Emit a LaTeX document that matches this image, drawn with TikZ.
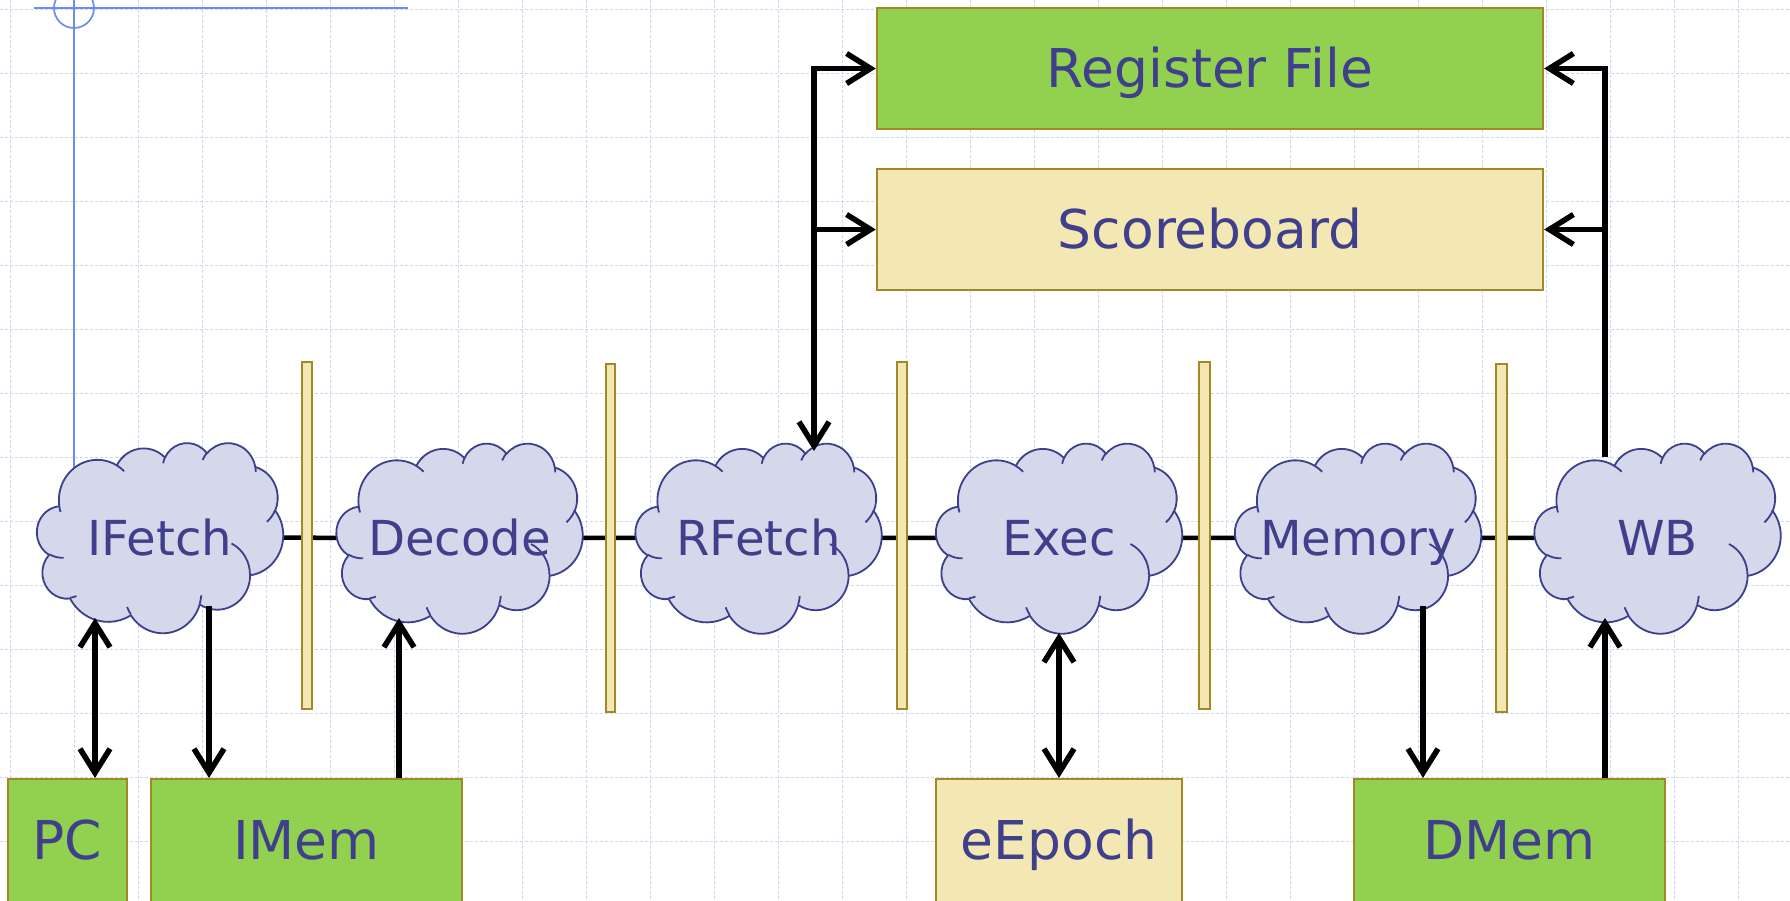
\documentclass[tikz,border=0pt]{standalone}
\usepackage{fontspec}
\setmainfont{DejaVu Sans}
\usetikzlibrary{arrows.meta}
\definecolor{txtblue}{RGB}{63,63,140}
\definecolor{cloudfill}{RGB}{213,215,235}
\definecolor{cloudedge}{RGB}{60,64,140}
\definecolor{boxgreen}{RGB}{146,208,80}
\definecolor{boxyellow}{RGB}{243,231,180}
\definecolor{boxedge}{RGB}{163,137,38}
\definecolor{gridblue}{RGB}{203,214,246}
\definecolor{guideblue}{RGB}{110,140,240}
\pgfdeclarelayer{bg}
\pgfsetlayers{bg,main}

\newcommand\oarc[4]{arc[x radius=#1,y radius=#2,start angle={oopar(#1,#2,#3)},delta angle={oodel(#1,#2,#3,#4)}]}

\newcommand\pcloud[4]{%
  \begin{scope}[shift={(#2-123,#3-95)},x=0.0569444cm,y=-0.0439815cm]
    \path[cloudbody] (3.900,14.370)
      \oarc{6.753}{9.190}{-190.48748}{123.78053}
      \oarc{5.333}{7.267}{-144.10238}{89.94523}
      \oarc{4.365}{5.945}{-145.80792}{99.72302}
      \oarc{4.857}{6.595}{-130.98607}{117.24173}
      \oarc{5.333}{7.273}{-78.70888}{109.02692}
      \oarc{6.775}{9.220}{-46.26725}{130.26900}
      \oarc{5.785}{7.867}{0.62502}{114.03333}
      \oarc{6.752}{9.215}{22.45160}{115.17255}
      \oarc{7.720}{10.543}{66.24263}{75.71102}
      \oarc{4.360}{5.918}{-274.94208}{146.73557}
      \oarc{4.345}{5.945}{-246.82850}{152.51885}
      -- cycle;
    \path[cloudinner]
      (4.693,26.177) \oarc{4.345}{5.945}{86.742}{26.4295}
      (6.928,34.899) \oarc{4.360}{5.918}{73.61047}{11.44747}
      (16.478,39.090) \oarc{6.752}{9.215}{137.62415}{14.0811}
      (28.827,34.751) \oarc{6.752}{9.215}{6.45327}{15.99835}
      (34.129,22.954) \oarc{5.785}{7.867}{-70.29235}{70.91737}
      (41.798,15.354) \oarc{5.333}{7.273}{30.31803}{27.7515}
      (38.324,5.426) \oarc{4.857}{6.595}{-13.74433}{14.8589}
      (29.078,3.952) \oarc{4.857}{6.595}{-149.18145}{18.19537}
      (22.141,4.720) \oarc{4.365}{5.945}{-163.49427}{17.68635}
      (14.000,5.192) \oarc{6.753}{9.190}{-66.70695}{12.31935}
      (4.127,15.789) \oarc{6.753}{9.190}{157.65435}{11.85817};
  \end{scope}
  \node[cloudtext] (#1) at (#2,#3) {#4};
}

\begin{document}
\begin{tikzpicture}[x=0.01cm,y=-0.01cm,
  declare function={
    oopar(\qw,\qh,\qa)=atan2(\qw*sin(\qa),\qh*cos(\qa));
    oofix(\qd,\qs)=\qd-360*round((\qd-\qs)/360);
    oodel(\qw,\qh,\qa,\qs)=oofix(oopar(\qw,\qh,\qa+\qs)-oopar(\qw,\qh,\qa),\qs);
  },
  >={Straight Barb[length=0.24cm,width=0.30cm]},
  gridline/.style={draw=gridblue,line width=0.01cm,dash pattern=on 0.03cm off 0.02cm},
  guide/.style={draw=guideblue,line width=0.017cm},
  cloudbody/.style={fill=cloudfill,draw=cloudedge,line width=0.018cm,line join=round},
  cloudinner/.style={draw=cloudedge,line width=0.018cm},
  cloudtext/.style={font=\fontsize{13.7}{16}\selectfont,text=txtblue,inner sep=0pt,text height=9.99pt,text depth=0pt},
  boxtext/.style={font=\fontsize{15.2}{18}\selectfont,text=txtblue,inner sep=0pt,text height=11.08pt,text depth=0pt},
  gbox/.style={boxtext,draw=boxedge,fill=boxgreen,line width=0.02cm},
  ybox/.style={boxtext,draw=boxedge,fill=boxyellow,line width=0.02cm},
  pipebar/.style={draw=boxedge,fill=boxyellow,line width=0.016cm,inner sep=0pt},
  conn/.style={draw=black,line width=0.055cm},
  flow/.style={draw=black,line width=0.045cm}]

\useasboundingbox (0,0) rectangle (1790,901);

\begin{pgfonlayer}{bg}
  \fill[white] (0,0) rectangle (1790,901);
  \foreach \i in {0,...,27} \draw[gridline] (10+64*\i,0) -- (10+64*\i,901);
  \foreach \j in {0,...,13} \draw[gridline] (0,10+64*\j) -- (1790,10+64*\j);
\end{pgfonlayer}

% guide lines
\draw[guide] (34,8) -- (408,8);
\draw[guide] (74,-5) -- (74,480);
\draw[guide] (74,8) circle[radius=0.2cm];

% top boxes
\node[gbox,minimum width=6.66cm,minimum height=1.21cm] (regfile) at (1210,68.5) {Register File};
\node[ybox,minimum width=6.66cm,minimum height=1.21cm] (scoreboard) at (1210,229.5) {Scoreboard};

% pipeline registers
\node[pipebar,minimum width=0.10cm,minimum height=3.47cm] (bar1) at (307,535.5) {};
\node[pipebar,minimum width=0.09cm,minimum height=3.48cm] (bar2) at (610.5,538) {};
\node[pipebar,minimum width=0.10cm,minimum height=3.47cm] (bar3) at (902,535.5) {};
\node[pipebar,minimum width=0.11cm,minimum height=3.47cm] (bar4) at (1204.5,535.5) {};
\node[pipebar,minimum width=0.11cm,minimum height=3.48cm] (bar5) at (1501.5,538) {};

% clouds
\pcloud{ifetch}{160}{537.5}{IFetch}
\pcloud{decode}{459.5}{538}{Decode}
\pcloud{rfetch}{758.5}{538}{RFetch}
\pcloud{exec}{1059}{538}{Exec}
\pcloud{memory}{1358}{538}{Memory}
\pcloud{wb}{1657.5}{538}{WB}

% bottom boxes
\node[gbox,minimum width=1.19cm,minimum height=1.23cm] (pc) at (67.5,840.5) {PC};
\node[gbox,minimum width=3.11cm,minimum height=1.23cm] (imem) at (306.5,840.5) {IMem};
\node[ybox,minimum width=2.46cm,minimum height=1.23cm] (eepoch) at (1059,840.5) {eEpoch};
\node[gbox,minimum width=3.11cm,minimum height=1.23cm] (dmem) at (1509.5,840.5) {DMem};

% connector end points on cloud borders
\coordinate (pcA) at (95,618);
\coordinate (imA) at (209,606);
\coordinate (deA) at (399,618);
\coordinate (exA) at (1059,633);
\coordinate (meA) at (1423,606);
\coordinate (wbA) at (1605,618);
\coordinate (wbT) at (1605,457);
\coordinate (rfT) at (814,451);
\coordinate (rfK) at (814,68.5);
\coordinate (wbK) at (1605,68.5);

\begin{pgfonlayer}{bg}
  \draw[flow] (ifetch) -- (decode) -- (rfetch) -- (exec) -- (memory) -- (wb);
\end{pgfonlayer}

\draw[conn,<->] (pcA) -- (pcA |- pc.north);
\draw[conn,->] (imA) -- (imA |- imem.north);
\draw[conn,->] (deA |- imem.north) -- (deA);
\draw[conn,<->] (exA) -- (eepoch.north);
\draw[conn,->] (meA) -- (meA |- dmem.north);
\draw[conn,->] (wbA |- dmem.north) -- (wbA);
\draw[conn,<->] (regfile.west) -- (rfK) -- (rfT);
\draw[conn,->] (rfK |- scoreboard.west) -- (scoreboard.west);
\draw[conn,->] (wbT) -- (wbK) -- (regfile.east);
\draw[conn,->] (wbK |- scoreboard.east) -- (scoreboard.east);
\end{tikzpicture}
\end{document}
